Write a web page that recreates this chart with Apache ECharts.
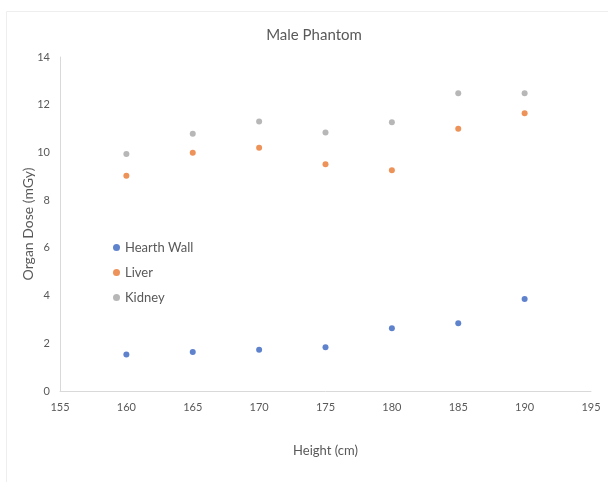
<!DOCTYPE html>
<html>
<head>
<meta charset="utf-8">
<script src="https://cdn.jsdelivr.net/npm/echarts@6/dist/echarts.min.js"></script>
<style>html,body{margin:0;padding:0;background:#fff;}#c{width:608px;height:482px;}</style>
</head>
<body>
<div id="c"></div>
<script>
var heights = [160, 165, 170, 175, 180, 185, 190];
var heartWall = [1.53, 1.63, 1.73, 1.83, 2.63, 2.84, 3.86];
var liver = [9.02, 9.99, 10.2, 9.5, 9.25, 10.99, 11.64];
var kidney = [9.93, 10.78, 11.3, 10.84, 11.26, 12.48, 12.48];
var seriesNames = ['Hearth Wall', 'Liver', 'Kidney'];
var colors = ['#3763c0', '#e8772e', '#a5a5a5'];

function pairs(ys) { return heights.map(function (h, i) { return [h, ys[i]]; }); }

var chart = echarts.init(document.getElementById('c'), null, {renderer: 'canvas'});
var font = 'Lato, Open Sans, sans-serif';
chart.setOption({
  backgroundColor: '#fff',
  animation: false,
  title: {
    text: 'Male Phantom', left: 309, top: 23, textAlign: 'center',
    textStyle: {fontFamily: font, fontSize: 15, fontWeight: 'normal', color: '#595959'}
  },
  legend: {
    orient: 'vertical', left: 108, top: 236, itemGap: 12,
    icon: 'circle', itemWidth: 7, itemHeight: 7,
    textStyle: {fontFamily: font, fontSize: 13, color: '#595959'},
    data: seriesNames
  },
  grid: {left: 60, right: 17, top: 57, bottom: 91, containLabel: false, outerBoundsMode: 'none'},
  xAxis: {
    type: 'value', min: 155, max: 195, interval: 5,
    name: 'Height (cm)', nameLocation: 'middle', nameGap: 53, nameMoveOverlap: false,
    nameTextStyle: {fontFamily: font, fontSize: 13, color: '#595959'},
    axisLine: {show: true, lineStyle: {color: '#d9d9d9', width: 1}},
    axisTick: {show: false}, splitLine: {show: false},
    axisLabel: {fontFamily: font, fontSize: 11, color: '#595959', margin: 11}
  },
  yAxis: {
    type: 'value', min: 0, max: 14, interval: 2,
    name: 'Organ Dose (mGy)', nameLocation: 'middle', nameGap: 25, nameMoveOverlap: false,
    nameTextStyle: {fontFamily: font, fontSize: 14, color: '#595959'},
    axisLine: {show: true, lineStyle: {color: '#d9d9d9', width: 1}},
    axisTick: {show: false}, splitLine: {show: false},
    axisLabel: {fontFamily: font, fontSize: 11, color: '#595959', margin: 10}
  },
  graphic: [
    {type: 'line', shape: {x1: 6.5, y1: 11.5, x2: 608, y2: 11.5}, style: {stroke: '#eeeeee', lineWidth: 1}, silent: true},
    {type: 'line', shape: {x1: 6.5, y1: 11.5, x2: 6.5, y2: 482}, style: {stroke: '#eeeeee', lineWidth: 1}, silent: true}
  ],
  series: [
    {name: seriesNames[0], type: 'scatter', symbolSize: 6, itemStyle: {color: colors[0]}, data: pairs(heartWall)},
    {name: seriesNames[1], type: 'scatter', symbolSize: 6, itemStyle: {color: colors[1]}, data: pairs(liver)},
    {name: seriesNames[2], type: 'scatter', symbolSize: 6, itemStyle: {color: colors[2]}, data: pairs(kidney)}
  ]
});
</script>
</body>
</html>
